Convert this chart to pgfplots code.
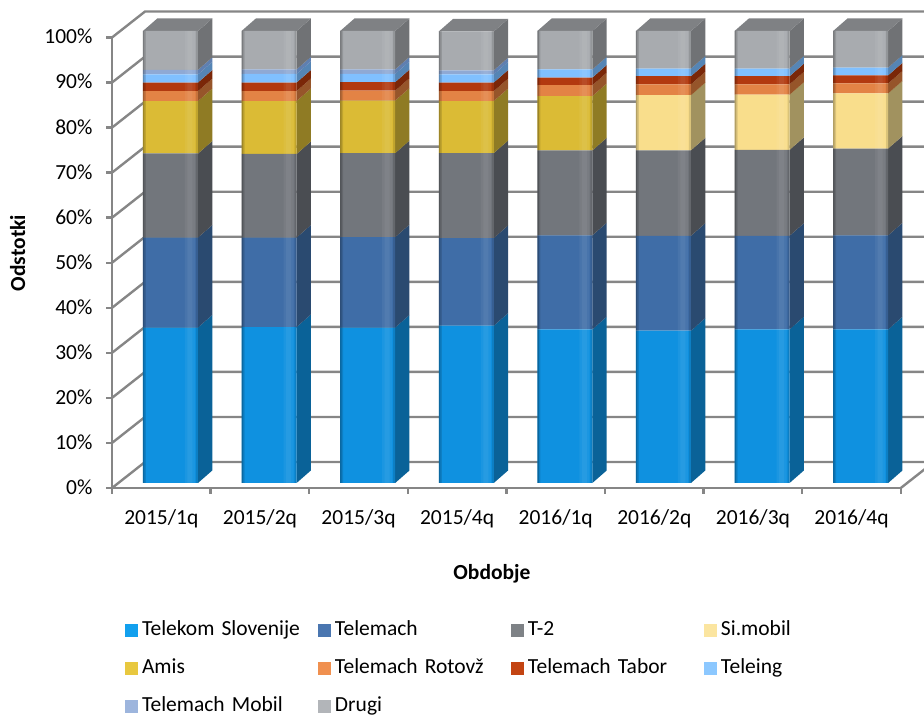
\documentclass[border=0pt]{standalone}
\usepackage{pgfplots}
\usepackage{pgfplotstable}
\pgfplotsset{compat=1.18}
\usepackage{fontspec}
\setmainfont{Carlito}
\definecolor{f1}{HTML}{0F91E0}\definecolor{d1}{HTML}{0A6298}\definecolor{g1}{HTML}{12A0EE}
\definecolor{f2}{HTML}{3F6DA7}\definecolor{d2}{HTML}{2A4A70}\definecolor{g2}{HTML}{4A76B0}
\definecolor{f3}{HTML}{72767C}\definecolor{d3}{HTML}{4A4D52}\definecolor{g3}{HTML}{7E8286}
\definecolor{f4}{HTML}{F9DE8C}\definecolor{d4}{HTML}{A1925F}\definecolor{g4}{HTML}{FBE5A0}
\definecolor{f5}{HTML}{DBBB35}\definecolor{d5}{HTML}{8F7B24}\definecolor{g5}{HTML}{E8C83F}
\definecolor{f6}{HTML}{E38345}\definecolor{d6}{HTML}{96552A}\definecolor{g6}{HTML}{F0904F}
\definecolor{f7}{HTML}{B2390F}\definecolor{d7}{HTML}{7A2708}\definecolor{g7}{HTML}{C34412}
\definecolor{f8}{HTML}{80C0FF}\definecolor{d8}{HTML}{5585B5}\definecolor{g8}{HTML}{8CC8FF}
\definecolor{f9}{HTML}{8FA9D4}\definecolor{d9}{HTML}{5F7FB0}\definecolor{g9}{HTML}{9DB5DD}
\definecolor{f10}{HTML}{A8ABAF}\definecolor{d10}{HTML}{707275}\definecolor{g10}{HTML}{B2B5B9}
\definecolor{topc}{HTML}{7F8184}
\definecolor{gridc}{HTML}{868686}
\pgfplotstableread{
c x s1 s2 s3 s4 s5 s6 s7 s8 s9 s10
0 0.593 34.4 19.9 18.6 0 11.6 2.2 1.9 1.8 1.0 8.6
1 1.593 34.5 19.8 18.5 0 11.7 2.2 1.9 1.9 1.0 8.5
2 2.593 34.4 20.0 18.6 0 11.6 2.2 1.9 1.8 1.0 8.5
3 3.593 34.8 19.4 18.8 0 11.5 2.2 1.9 1.8 0.9 8.6
4 4.593 34.0 20.8 18.8 0 12.0 2.4 1.7 1.8 0 8.5
5 5.593 33.7 21.0 18.9 12.2 0 2.4 1.8 1.7 0 8.3
6 6.593 34.0 20.7 19.0 12.2 0 2.3 1.8 1.7 0 8.3
7 7.593 34.0 20.8 19.2 12.2 0 2.2 1.8 1.7 0 8.1
}\shares
\pgfplotstableread{
x top
0.593 100
1.593 100
2.593 100
3.593 100
4.593 100
5.593 100
6.593 100
7.593 100
}\fulls
\pgfplotsset{barplane/.style={
  scale only axis,width=788.8pt,height=452pt,at={(112pt,232pt)},anchor=south west,
  xmin=0,xmax=8,ymin=0,ymax=100,enlargelimits=false,clip=false,hide axis}}
\begin{document}
\begin{tikzpicture}
\path[use as bounding box] (0,0) rectangle (924pt,715pt);
\clip (0,0) rectangle (924pt,715pt);
\begin{axis}[
  scale only axis,width=788.8pt,height=450.5pt,at={(112pt,227pt)},anchor=south west,
  xmin=0,xmax=8,ymin=0,ymax=100,enlargelimits=false,clip=false,
  axis x line*=bottom,axis y line*=left,
  axis line style={gridc,line width=2.4pt,-},
  tick style={gridc,line width=2.4pt},
  tick align=outside,
  major tick length=6pt,minor tick length=6pt,
  ytick={0,10,...,100},
  yticklabel={\pgfmathprintnumber{\tick}\%},
  /pgf/number format/assume math mode=true,
  xtick={0.5,1.5,...,7.5},
  xticklabels={2015/1q,2015/2q,2015/3q,2015/4q,2016/1q,2016/2q,2016/3q,2016/4q},
  minor xtick={0,1,...,8},
  major x tick style={draw=none},
  tick label style={font=\fontsize{21.5}{25}\selectfont,black},
  x tick label style={yshift=-12pt},
  y tick label style={xshift=-10pt,yshift=0.8pt},
  xlabel={\textbf{Obdobje}},
  xlabel style={font=\fontsize{21.5}{25}\selectfont,at={(axis description cs:0.4817,-0.191)},anchor=center},
  ylabel={\textbf{Odstotki}},
  ylabel style={font=\fontsize{21.5}{25}\selectfont,at={(axis description cs:-0.1195,0.5216)},anchor=center},
  legend columns=4,
  legend cell align=left,
  legend image code/.code={\fill[#1] (0pt,-6.5pt) rectangle (13pt,6.5pt);},
  legend style={draw=none,fill=none,inner sep=0pt,outer sep=0pt,
    at={(13pt,-133pt)},anchor=north west,
    font=\fontsize{21.5}{25}\selectfont,
    row sep=20pt,
    nodes={text width=176pt,align=left,inner sep=0pt,anchor=west,text depth=4pt,text height=14pt},
    /tikz/every odd column/.append style={column sep=4pt}},
]
\addplot[gridc,line width=2.4pt,forget plot] coordinates {(0,0)(0.335,5.77)(8.4,5.77)};
\addplot[gridc,line width=2.4pt,forget plot] coordinates {(0,10)(0.335,15.77)(8.4,15.77)};
\addplot[gridc,line width=2.4pt,forget plot] coordinates {(0,20)(0.335,25.77)(8.4,25.77)};
\addplot[gridc,line width=2.4pt,forget plot] coordinates {(0,30)(0.335,35.77)(8.4,35.77)};
\addplot[gridc,line width=2.4pt,forget plot] coordinates {(0,40)(0.335,45.77)(8.4,45.77)};
\addplot[gridc,line width=2.4pt,forget plot] coordinates {(0,50)(0.335,55.77)(8.4,55.77)};
\addplot[gridc,line width=2.4pt,forget plot] coordinates {(0,60)(0.335,65.77)(8.4,65.77)};
\addplot[gridc,line width=2.4pt,forget plot] coordinates {(0,70)(0.335,75.77)(8.4,75.77)};
\addplot[gridc,line width=2.4pt,forget plot] coordinates {(0,80)(0.335,85.77)(8.4,85.77)};
\addplot[gridc,line width=2.4pt,forget plot] coordinates {(0,90)(0.335,95.77)(8.4,95.77)};
\addplot[gridc,line width=2.4pt,forget plot] coordinates {(0,100)(0.335,105.77)(8.4,105.77)};
\addplot[gridc,line width=2.4pt,forget plot] coordinates {(8,0)(8.335,5.77)};
\addlegendimage{fill=g1,draw=none}\addlegendentry{Telekom Slovenije}
\addlegendimage{fill=g2,draw=none}\addlegendentry{Telemach}
\addlegendimage{fill=g3,draw=none}\addlegendentry{T-2}
\addlegendimage{fill=g4,draw=none}\addlegendentry{Si.mobil}
\addlegendimage{fill=g5,draw=none}\addlegendentry{Amis}
\addlegendimage{fill=g6,draw=none}\addlegendentry{Telemach Rotovž}
\addlegendimage{fill=g7,draw=none}\addlegendentry{Telemach Tabor}
\addlegendimage{fill=g8,draw=none}\addlegendentry{Teleing}
\addlegendimage{fill=g9,draw=none}\addlegendentry{Telemach Mobil}
\addlegendimage{fill=g10,draw=none}\addlegendentry{Drugi}
\end{axis}
% side and top faces
\begin{axis}[barplane]
\pgfplotsforeachungrouped \c in {0,...,7}{%
  \def\cum{0}%
  \pgfmathsetmacro\xa{\c+0.872}%
  \pgfmathsetmacro\xb{\c+1.017}%
  \pgfmathsetmacro\xl{\c+0.314}%
  \pgfmathsetmacro\xm{\c+0.459}%
  \pgfplotsinvokeforeach{1,2,3,4,5,6,7,8,9,10}{%
    \pgfplotstablegetelem{\c}{s#1}\of\shares
    \pgfmathsetmacro\nxt{\cum+\pgfplotsretval}%
    \pgfmathsetmacro\ya{\cum+2.77}%
    \pgfmathsetmacro\yb{\nxt+2.77}%
    \edef\tmp{\noexpand\addplot[fill=d#1,draw=none,forget plot] coordinates {(\xa,\cum)(\xb,\ya)(\xb,\yb)(\xa,\nxt)};}%
    \tmp
    \let\cum\nxt
  }%
  \edef\tmp{\noexpand\addplot[fill=topc,draw=none,forget plot] coordinates {(\xl,\cum)(\xm,\yb)(\xb,\yb)(\xa,\cum)};}%
  \tmp
}
\end{axis}
% front faces
\begin{axis}[barplane,ybar stacked,bar width=55pt]
\addplot[fill=f1,draw=none] table[x=x,y=s1] {\shares};
\addplot[fill=f2,draw=none] table[x=x,y=s2] {\shares};
\addplot[fill=f3,draw=none] table[x=x,y=s3] {\shares};
\addplot[fill=f4,draw=none] table[x=x,y=s4] {\shares};
\addplot[fill=f5,draw=none] table[x=x,y=s5] {\shares};
\addplot[fill=f6,draw=none] table[x=x,y=s6] {\shares};
\addplot[fill=f7,draw=none] table[x=x,y=s7] {\shares};
\addplot[fill=f8,draw=none] table[x=x,y=s8] {\shares};
\addplot[fill=f9,draw=none] table[x=x,y=s9] {\shares};
\addplot[fill=f10,draw=none] table[x=x,y=s10] {\shares};
\end{axis}
% bevel highlights
\begin{axis}[barplane,ybar]
\addplot[fill=black,fill opacity=0.28,draw=none,bar width=1.5pt,bar shift=-26.75pt] table[x=x,y=top] {\fulls};
\addplot[fill=black,fill opacity=0.12,draw=none,bar width=1.5pt,bar shift=-25.25pt] table[x=x,y=top] {\fulls};
\addplot[fill=white,fill opacity=0.05,draw=none,bar width=10pt,bar shift=19.5pt] table[x=x,y=top] {\fulls};
\addplot[fill=white,fill opacity=0.05,draw=none,bar width=5pt,bar shift=19.5pt] table[x=x,y=top] {\fulls};
\addplot[fill=black,fill opacity=0.12,draw=none,bar width=2pt,bar shift=26.5pt] table[x=x,y=top] {\fulls};
\end{axis}
\end{tikzpicture}
\end{document}
